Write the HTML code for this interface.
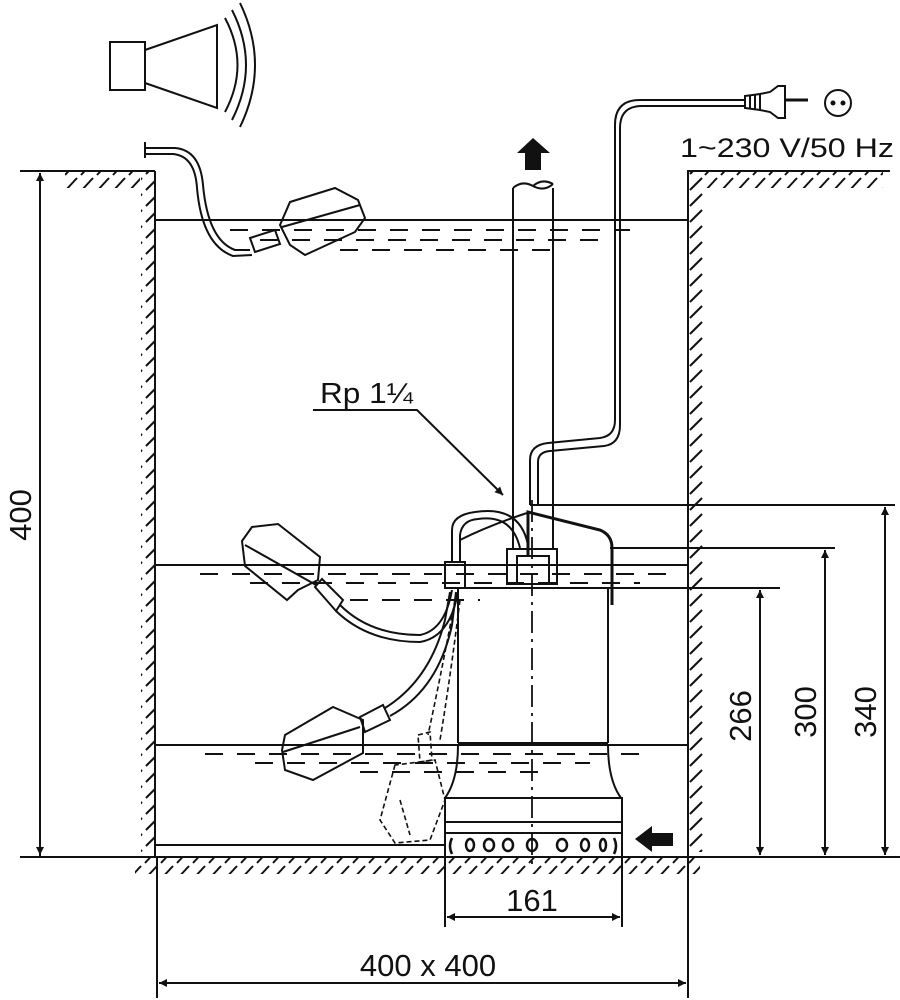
<!DOCTYPE html>
<html><head><meta charset="utf-8"><style>
html,body{margin:0;padding:0;background:#fff}
svg{display:block}
text{font-family:"Liberation Sans",sans-serif;fill:#111}
</style></head><body>
<svg width="900" height="1000" viewBox="0 0 900 1000" xmlns="http://www.w3.org/2000/svg">
<defs>
<marker id="ar" viewBox="0 0 10 10" refX="10" refY="5" markerWidth="16" markerHeight="8" orient="auto-start-reverse" markerUnits="userSpaceOnUse"><path d="M0,0 L10,5 L0,10 z" fill="#111"/></marker>
<pattern id="hh" width="16" height="16" patternUnits="userSpaceOnUse"><line x1="1" y1="15" x2="13" y2="2" stroke="#111" stroke-width="2"/></pattern>
<pattern id="hv" width="16" height="16" patternUnits="userSpaceOnUse"><line x1="2" y1="14" x2="14" y2="2" stroke="#111" stroke-width="2"/></pattern>
</defs>
<g stroke="#111" fill="none" stroke-width="2">
<rect x="110" y="42" width="35" height="48"/>
<path d="M145,50 L217,25 L217,108 L145,83"/>
<path d="M225,18 Q250,65 225,112"/>
<path d="M232,10 Q260,65 232,120"/>
<path d="M240,3 Q270,65 240,127"/>
<line x1="20" y1="171" x2="155" y2="171"/>
<line x1="155" y1="171" x2="155" y2="857"/>
<line x1="687" y1="171" x2="890" y2="171"/>
<line x1="688" y1="171" x2="688" y2="857"/>
<line x1="20" y1="857" x2="900" y2="857"/>
</g>
<rect x="65" y="172" width="75" height="16" fill="url(#hh)"/>
<rect x="141" y="172" width="14" height="680" fill="url(#hv)"/>
<rect x="689" y="172" width="14" height="680" fill="url(#hv)"/>
<rect x="703" y="172" width="180" height="16" fill="url(#hh)"/>
<rect x="135" y="858" width="565" height="16" fill="url(#hh)"/>
<g stroke="#111" fill="none" stroke-width="2">
<line x1="155" y1="220" x2="687" y2="220"/>
<line x1="155" y1="565" x2="687" y2="565"/>
<line x1="155" y1="745" x2="687" y2="745"/>
<line x1="155" y1="845" x2="445" y2="845"/>
<g stroke-dasharray="18,14">
<line x1="230" y1="230" x2="630" y2="230"/>
<line x1="260" y1="240" x2="600" y2="240"/>
<line x1="340" y1="250" x2="560" y2="250"/>
<line x1="200" y1="574" x2="680" y2="574"/>
<line x1="250" y1="583" x2="640" y2="583"/>
<line x1="350" y1="600" x2="480" y2="600"/>
<line x1="205" y1="754" x2="640" y2="754"/>
<line x1="255" y1="763" x2="590" y2="763"/>
<line x1="360" y1="772" x2="540" y2="772"/>
</g>
<line x1="40" y1="857" x2="40" y2="173" marker-end="url(#ar)"/>
<line x1="40" y1="173" x2="40" y2="855" marker-end="url(#ar)"/>
<line x1="610" y1="588" x2="780" y2="588"/>
<line x1="610" y1="548" x2="835" y2="548"/>
<line x1="530" y1="505" x2="895" y2="505"/>
<line x1="760" y1="590" x2="760" y2="855" marker-end="url(#ar)"/>
<line x1="760" y1="855" x2="760" y2="590" marker-end="url(#ar)"/>
<line x1="825" y1="550" x2="825" y2="855" marker-end="url(#ar)"/>
<line x1="825" y1="855" x2="825" y2="550" marker-end="url(#ar)"/>
<line x1="885" y1="507" x2="885" y2="855" marker-end="url(#ar)"/>
<line x1="885" y1="855" x2="885" y2="507" marker-end="url(#ar)"/>
<line x1="445" y1="857" x2="445" y2="927"/>
<line x1="622" y1="857" x2="622" y2="927"/>
<line x1="447" y1="917" x2="620" y2="917" marker-end="url(#ar)"/>
<line x1="620" y1="917" x2="447" y2="917" marker-end="url(#ar)"/>
<line x1="157" y1="857" x2="157" y2="998"/>
<line x1="688" y1="857" x2="688" y2="998"/>
<line x1="159" y1="983" x2="686" y2="983" marker-end="url(#ar)"/>
<line x1="686" y1="983" x2="159" y2="983" marker-end="url(#ar)"/>
<line x1="513" y1="188" x2="513" y2="549"/>
<line x1="553" y1="188" x2="553" y2="549"/>
<path d="M513,188 Q522,180 533,186 Q544,192 553,184"/>
<path d="M533,186 Q542,178 553,184"/>
<rect x="507" y="549" width="50" height="35"/>
<rect x="517" y="556" width="32" height="28"/>
<line x1="458" y1="588" x2="458" y2="743"/>
<line x1="608" y1="588" x2="608" y2="743"/>
<line x1="456" y1="588" x2="610" y2="588"/>
<line x1="458" y1="743" x2="608" y2="743"/>
<path d="M458,745 Q458,780 445,798"/>
<path d="M608,745 Q608,780 621,798"/>
<rect x="445" y="798" width="177" height="59"/>
<line x1="445" y1="822" x2="622" y2="822"/>
<line x1="445" y1="833" x2="622" y2="833"/>
<g stroke-width="2.5">
<ellipse cx="470" cy="845" rx="4" ry="6"/><ellipse cx="489" cy="845" rx="5" ry="6"/><ellipse cx="508" cy="845" rx="5" ry="6"/><ellipse cx="532" cy="845" rx="5" ry="6"/><ellipse cx="562" cy="845" rx="5" ry="6"/><ellipse cx="585" cy="845" rx="4" ry="6"/><ellipse cx="603" cy="845" rx="3" ry="6"/><path d="M452,838 Q448,846 452,854"/><path d="M614,838 Q618,846 614,854"/>
</g>
<line x1="532" y1="500" x2="532" y2="870" stroke-dasharray="22,6,3,6" stroke-width="1.8"/>
<path d="M528,555 L528,512 L600,530 Q612,535 612,548 L612,605" stroke-width="3"/>
<path d="M452,562 L452,530 Q452,515 475,512 Q520,505 528,545"/>
<path d="M460,562 L460,535 Q462,520 478,519 Q512,514 520,548"/>
<path d="M460,540 Q490,525 530,512"/>
<rect x="445" y="562" width="20" height="26"/>
<path d="M530,505 L530,460 Q530,445 548,443 L600,438 Q615,436 615,420 L615,125 Q615,100 640,100 L745,100"/>
<path d="M538,505 L538,462 Q538,452 550,451 L604,446 Q620,444 620,425 L620,128 Q620,106 642,106 L745,106"/>
<path d="M745,96 L760,94 L760,110 L745,108 z"/>
<path d="M760,94 L770,92 L778,86 L785,86 L785,118 L778,118 L770,112 L760,110"/>
<line x1="785" y1="100" x2="808" y2="100" stroke-width="3"/>
<line x1="750" y1="96" x2="750" y2="108"/><line x1="755" y1="95" x2="755" y2="109"/>
<circle cx="838" cy="103" r="13"/>
<circle cx="833" cy="103" r="1.5" fill="#111"/><circle cx="843" cy="103" r="1.5" fill="#111"/>
<path d="M145,142 L145,158"/>
<path d="M145,148 L175,148 Q200,150 203,185 Q208,240 235,250 L250,250"/>
<path d="M145,154 L173,154 Q195,156 197,188 Q202,245 233,256 L252,255"/>
<path d="M250,238 L275,230 L280,244 L255,252 z"/>
<path d="M280,225 L290,202 L335,188 L358,200 L365,218 L355,232 L305,255 L290,245 z"/>
<line x1="282" y1="227" x2="360" y2="205"/>
<path d="M242,541 L252,527 L278,524 L320,557 L318,580 L298,590 L287,600 L245,566 z"/>
<line x1="245" y1="545" x2="316" y2="585"/>
<path d="M315,587 L322,579 L343,600 L336,611 z"/>
<path d="M340,605 Q370,635 420,635 Q445,630 452,590"/>
<path d="M336,611 Q368,642 420,642 Q450,637 458,592"/>
<path d="M285,735 L333,707 L363,720 L363,753 L313,780 L285,770 L282,750 z"/>
<line x1="283" y1="752" x2="360" y2="727"/>
<path d="M360,717 L383,705 L390,720 L365,732 z"/>
<path d="M385,708 Q430,680 445,620 L450,592"/>
<path d="M390,716 Q438,690 452,625 L456,592"/>
<g stroke-dasharray="5,3" stroke-width="1.6">
<path d="M455,600 Q440,680 428,735"/>
<path d="M460,600 Q450,680 440,740"/>
<path d="M418,735 L430,732 L432,760 L420,762 z"/>
<path d="M395,765 L380,820 L395,843 L430,840 L445,800 L435,760 z"/>
<line x1="400" y1="800" x2="410" y2="835"/>
</g>
<polyline points="313,410 417,410 503,495" marker-end="url(#ar)"/>
</g>
<path d="M517,153 L533,138 L550,153 L541,153 L541,170 L525,170 L525,153 z" fill="#111"/>
<path d="M635,839 L652,826 L652,833 L673,833 L673,846 L652,846 L652,852 z" fill="#111"/>
<text x="680" y="157" font-size="27" textLength="214" lengthAdjust="spacingAndGlyphs">1~230 V/50 Hz</text>
<text x="320" y="403" font-size="29" textLength="93" lengthAdjust="spacingAndGlyphs">Rp 1¼</text>
<text x="532" y="911" font-size="31" text-anchor="middle">161</text>
<text x="428" y="976" font-size="31" text-anchor="middle">400 x 400</text>
<text transform="translate(31,515) rotate(-90)" font-size="31" text-anchor="middle">400</text>
<text transform="translate(751,716) rotate(-90)" font-size="31" text-anchor="middle">266</text>
<text transform="translate(816,712) rotate(-90)" font-size="31" text-anchor="middle">300</text>
<text transform="translate(876,712) rotate(-90)" font-size="31" text-anchor="middle">340</text>
</svg>
</body></html>
